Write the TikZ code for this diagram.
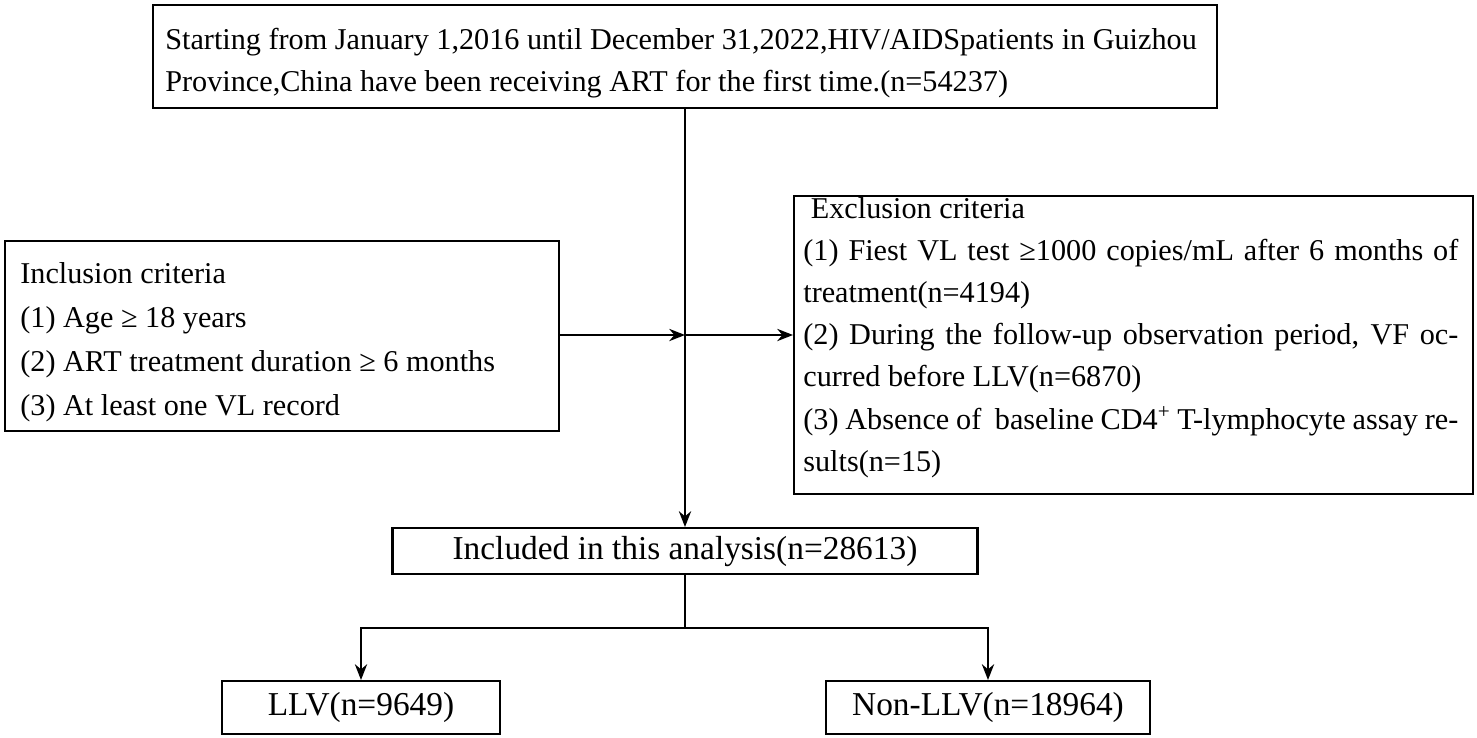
\documentclass[tikz,border=0pt]{standalone}
\usepackage{fontspec}
\setmainfont{Liberation Serif}
\usetikzlibrary{positioning,arrows.meta}

\tikzset{
	box/.style={draw, line width=1.2pt, anchor=north west, inner sep=0pt},
	txt/.style={anchor=north west, align=left, inner sep=0pt, font=\fontsize{17.2}{24}\selectfont},
	arr/.style={-{Stealth[length=9pt,width=7pt]}, line width=1.1pt},
	ln/.style={line width=1.1pt}
}

\begin{document}
\begin{tikzpicture}[x=0.02cm, y=-0.02cm]
	\useasboundingbox (0,0) rectangle (1477,737);
	% boxes
	\node[box, minimum width=1064*0.02cm, minimum height=103*0.02cm] (start) at (152,4) {};
	\node[txt] (starttxt) at (165,28) {Starting from January 1,2016 until December 31,2022,HIV/AIDSpatients in Guizhou\\Province,China have been receiving ART for the first time.(n=54237)};

	\node[box, minimum width=554*0.02cm, minimum height=190*0.02cm] (incl) at (4,240) {};
	\node[txt] (incltxt) at (20,262) {Inclusion criteria\\[1pt](1) Age ≥ 18 years\\[1pt](2) ART treatment duration ≥ 6 months\\[1pt](3) At least one VL record};

	\node[box, minimum width=679*0.02cm, minimum height=298*0.02cm] (excl) at (793,195) {};
	\node[txt, text width=655*0.02cm, align=justify] (excltxt) at (803,197) {\ Exclusion criteria\newline
	(1) Fiest VL test ≥1000 copies/mL after 6 months of treatment(n=4194)\newline
	(2) During the follow-up observation period, VF occurred before LLV(n=6870)\newline
	(3) Absence of\ \ baseline CD4\textsuperscript{+} T-lymphocyte assay results(n=15)};

	\node[box, minimum width=585*0.02cm, minimum height=46*0.02cm, anchor=north] (anal) at (685,527) {};
	\node[txt, anchor=center, font=\fontsize{19}{24}\selectfont] (analtxt) at (anal.center) {Included in this analysis(n=28613)};

	\node[box, minimum width=278*0.02cm, minimum height=53*0.02cm, anchor=north] (llv) at (361,680) {};
	\node[txt, anchor=center, font=\fontsize{19}{24}\selectfont] (llvtxt) at (llv.center) {LLV(n=9649)};

	\node[box, minimum width=324*0.02cm, minimum height=53*0.02cm, anchor=north] (nonllv) at (988,680) {};
	\node[txt, anchor=center, font=\fontsize{19}{24}\selectfont] (nonllvtxt) at (nonllv.center) {Non-LLV(n=18964)};

	% connectors
	\coordinate (mid) at (685,335);
	\coordinate (split) at (685,628);
	\draw[arr] (start.south -| anal.north) -- (anal.north);
	\draw[arr] (incl.east |- mid) -- (mid);
	\draw[arr] (mid) -- (excl.west |- mid);
	\draw[ln] (anal.south) -- (split);
	\draw[arr] (split) -| (llv.north);
	\draw[arr] (split) -| (nonllv.north);
\end{tikzpicture}
\end{document}
